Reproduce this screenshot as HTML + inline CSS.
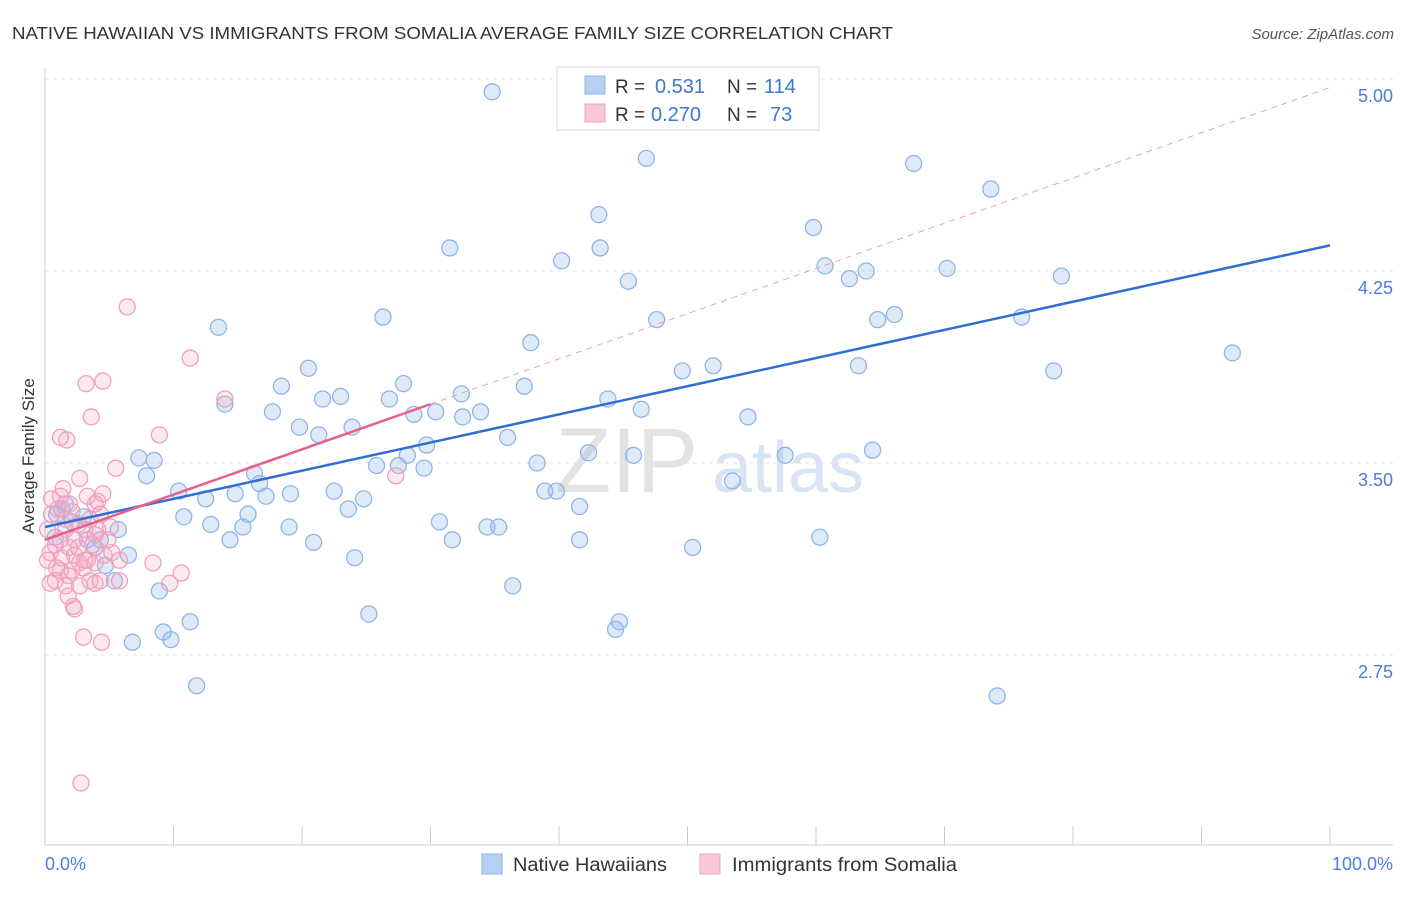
<!DOCTYPE html>
<html><head><meta charset="utf-8"><style>
body{margin:0;background:#fff;font-family:"Liberation Sans",sans-serif;}
svg text{font-family:"Liberation Sans",sans-serif;}
</style></head><body>
<svg id="chart" width="1406" height="892" xmlns="http://www.w3.org/2000/svg">
<text x="12" y="39" font-size="17.5" fill="#333" textLength="881" lengthAdjust="spacingAndGlyphs">NATIVE HAWAIIAN VS IMMIGRANTS FROM SOMALIA AVERAGE FAMILY SIZE CORRELATION CHART</text>
<text x="1394" y="39" font-size="15" fill="#555" text-anchor="end" font-style="italic">Source: ZipAtlas.com</text>
<g id="grid"></g>
<text x="555" y="492" font-size="92" fill="#e3e3e3" font-family="Liberation Serif">ZIP</text>
<text x="712" y="492" font-size="72" fill="#d8e4f3">atlas</text>
<g id="marks"></g>
<text x="34" y="456" font-size="17" fill="#333" text-anchor="middle" transform="rotate(-90 34 456)">Average Family Size</text>
<text x="45" y="870" font-size="18" fill="#4a7fd6">0.0%</text>
<text x="1393" y="870" font-size="18" fill="#4a7fd6" text-anchor="end">100.0%</text>
<g>
<rect x="557" y="67" width="262" height="63" fill="#fff" stroke="#ddd"/>
<rect x="585" y="76" width="20" height="18" fill="#b8d0f3" stroke="#8fb5e8"/>
<rect x="585" y="104" width="20" height="18" fill="#f9c8d8" stroke="#f0a0bc"/>
<text x="615" y="93" font-size="19" fill="#333">R =</text>
<text x="655" y="93" font-size="20" fill="#3a78d4">0.531</text>
<text x="727" y="93" font-size="19" fill="#333">N =</text>
<text x="764" y="93" font-size="20" fill="#3a78d4">114</text>
<text x="615" y="121" font-size="19" fill="#333">R =</text>
<text x="651" y="121" font-size="20" fill="#3a78d4">0.270</text>
<text x="727" y="121" font-size="19" fill="#333">N =</text>
<text x="770" y="121" font-size="20" fill="#3a78d4">73</text>
</g>
<g>
<rect x="482" y="854" width="20" height="20" fill="#b8d0f3" stroke="#8fb5e8"/>
<text x="513" y="871" font-size="19" fill="#333" textLength="154" lengthAdjust="spacingAndGlyphs">Native Hawaiians</text>
<rect x="700" y="854" width="20" height="20" fill="#f9c8d8" stroke="#f0a0bc"/>
<text x="732" y="871" font-size="19" fill="#333" textLength="225" lengthAdjust="spacingAndGlyphs">Immigrants from Somalia</text>
</g>
</svg>
<script>
const yTicks=[2.75,3.5,4.25,5.0];
const yTickLabels=["2.75","3.50","4.25","5.00"];
const xTicks=[0,10,20,30,40,50,60,70,80,90,100];
const blueX=[34.8,46.8,67.6,73.6,43.1,59.8,31.5,43.2,40.2,60.7,63.9,70.2,79.1,45.4,62.6,13.5,26.3,47.6,64.8,66.1,76.0,37.8,92.4,20.5,52.0,49.6,63.3,78.5,18.4,27.9,37.3,23.0,21.6,26.8,32.4,14.0,43.8,46.4,17.7,28.7,30.4,33.9,32.5,54.7,19.8,21.3,23.9,36.0,29.7,28.2,42.3,45.8,57.6,64.4,7.3,8.5,27.5,16.3,25.8,29.5,38.3,7.9,53.5,16.7,10.4,22.5,38.9,39.8,14.8,12.5,19.1,17.2,24.8,23.6,41.6,15.8,10.8,30.7,12.9,19.0,15.4,34.4,35.3,14.4,20.9,31.7,41.6,60.3,5.7,2.1,0.9,1.3,3.0,4.3,6.5,24.1,50.4,3.3,4.7,5.4,36.4,8.9,25.2,44.7,44.4,11.3,9.2,9.8,6.8,11.8,74.1,0.8,3.9,1.6];
const blueY=[4.95,4.69,4.67,4.57,4.47,4.42,4.34,4.34,4.29,4.27,4.25,4.26,4.23,4.21,4.22,4.03,4.07,4.06,4.06,4.08,4.07,3.97,3.93,3.87,3.88,3.86,3.88,3.86,3.80,3.81,3.80,3.76,3.75,3.75,3.77,3.73,3.75,3.71,3.70,3.69,3.70,3.70,3.68,3.68,3.64,3.61,3.64,3.60,3.57,3.53,3.54,3.53,3.53,3.55,3.52,3.51,3.49,3.46,3.49,3.48,3.50,3.45,3.43,3.42,3.39,3.39,3.39,3.39,3.38,3.36,3.38,3.37,3.36,3.32,3.33,3.30,3.29,3.27,3.26,3.25,3.25,3.25,3.25,3.20,3.19,3.20,3.20,3.21,3.24,3.27,3.30,3.32,3.29,3.20,3.14,3.13,3.17,3.20,3.10,3.04,3.02,3.00,2.91,2.88,2.85,2.88,2.84,2.81,2.80,2.63,2.59,3.21,3.17,3.34];
const pinkX=[6.4,11.3,4.5,3.2,14.0,3.6,8.9,1.7,1.2,2.7,5.5,1.4,4.1,4.5,27.3,2.8,4.4,3.0,10.6,9.7,8.4,2.2,2.3,0.5,1.0,1.6,2.1,2.6,3.5,3.9,4.3,4.1,3.1,0.8,0.4,1.3,1.9,2.3,2.7,3.3,3.9,4.6,5.2,1.2,1.8,0.8,0.4,1.6,3.5,3.9,5.8,2.7,1.2,0.2,4.9,2.3,5.8,3.7,0.9,1.8,5.1,3.0,1.9,3.3,1.2,0.2,2.6,4.3,1.6,3.1,0.5,3.9,2.1];
const pinkY=[4.11,3.91,3.82,3.81,3.75,3.68,3.61,3.59,3.60,3.44,3.48,3.40,3.35,3.38,3.45,2.25,2.80,2.82,3.07,3.03,3.11,2.94,2.93,3.30,3.32,3.28,3.31,3.26,3.28,3.34,3.30,3.24,3.24,3.18,3.15,3.13,3.17,3.14,3.11,3.12,3.11,3.14,3.15,3.08,3.06,3.04,3.03,3.02,3.04,3.03,3.04,3.02,3.20,3.24,3.20,3.20,3.12,3.18,3.09,2.98,3.25,3.09,3.34,3.37,3.37,3.12,3.17,3.04,3.24,3.12,3.36,3.22,3.08];
const blueFit=[3.25,4.35];
const pinkFit=[3.20,3.73];
const pinkSolidEnd=30;

const X=v=>45+v*12.85, Y=v=>463-(v-3.5)*256;
const NS="http://www.w3.org/2000/svg";
function mk(tag,attrs,parent){const e=document.createElementNS(NS,tag);for(const k in attrs)e.setAttribute(k,attrs[k]);parent.appendChild(e);return e;}
const grid=document.getElementById('grid'), marks=document.getElementById('marks');
yTicks.forEach((t,i)=>{
  const l=mk('line',{x1:45,x2:1393,y1:Y(t),y2:Y(t),stroke:'#e3e3e3','stroke-dasharray':'4,4'},grid);
  
  
  const tx=mk('text',{x:1393,y:Y(t)+23,'font-size':18,fill:'#4a7fd6','text-anchor':'end'},grid);
  tx.textContent=yTickLabels[i];
  
  
});
const ax=mk('line',{x1:45,x2:45,y1:68,y2:845,stroke:'#ccc'},grid);


const bx=mk('line',{x1:45,x2:1393,y1:845,y2:845,stroke:'#ccc'},grid);


xTicks.forEach(t=>{
  const l=mk('line',{x1:X(t),x2:X(t),y1:826,y2:845,stroke:'#ccc'},grid);
  
  
});
blueX.forEach((v,i)=>{
  const c=mk('circle',{cx:X(v),cy:Y(blueY[i]),r:8,fill:'rgba(150,185,235,0.3)',stroke:'#8fb5e8','stroke-width':1.3},marks);
  
  
});
pinkX.forEach((v,i)=>{
  const c=mk('circle',{cx:X(v),cy:Y(pinkY[i]),r:8,fill:'rgba(245,170,195,0.25)',stroke:'#f0a0bc','stroke-width':1.3},marks);
  
  
});
const pf=x=>pinkFit[0]+(pinkFit[1]-pinkFit[0])*x/pinkSolidEnd;
let xEnd=Math.min(100,(5.0-pinkFit[0])/((pinkFit[1]-pinkFit[0])/pinkSolidEnd));
const pd=mk('line',{x1:X(pinkSolidEnd),y1:Y(pf(pinkSolidEnd)),x2:X(xEnd),y2:Y(pf(xEnd)),stroke:'#eaa0b8','stroke-width':1,'stroke-dasharray':'6,5'},marks);


const bl=mk('line',{x1:X(0),y1:Y(blueFit[0]),x2:X(100),y2:Y(blueFit[1]),stroke:'#2f6fd3','stroke-width':2.5},marks);


const pl=mk('line',{x1:X(0),y1:Y(pinkFit[0]),x2:X(pinkSolidEnd),y2:Y(pinkFit[1]),stroke:'#e8608a','stroke-width':2.5},marks);


</script>
</body></html>
